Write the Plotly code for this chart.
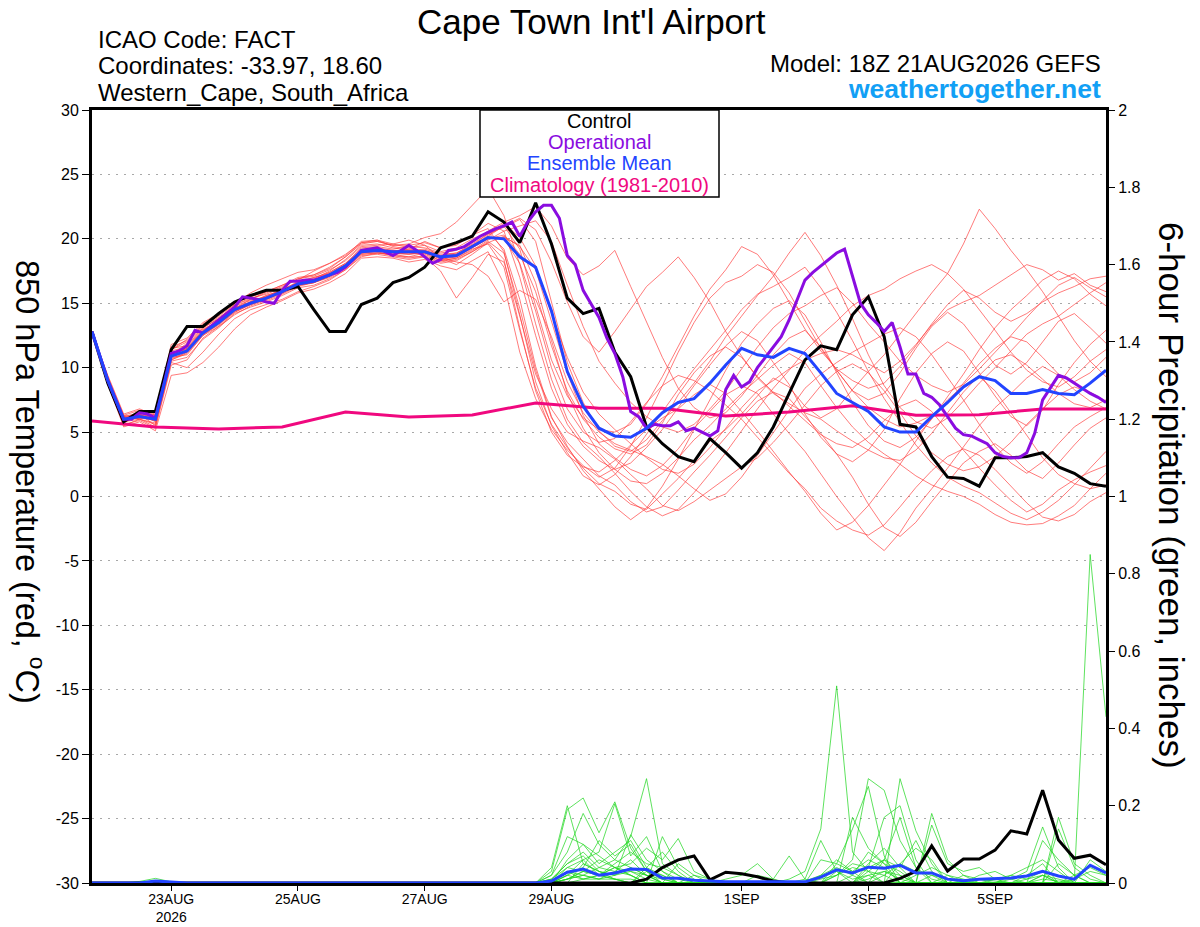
import pandas as pd
import plotly.graph_objects as go

# GEFS run 18Z 21AUG2026, 6-hourly out to 384 h (operational GFS is 3-hourly)
times = pd.date_range("2026-08-21 18:00", periods=65, freq="6h")
times_op = pd.date_range("2026-08-21 18:00", periods=129, freq="3h")
times_clim = pd.date_range("2026-08-21 18:00", periods=17, freq="24h")

tick_dates = ["2026-08-23", "2026-08-25", "2026-08-27", "2026-08-29",
              "2026-09-01", "2026-09-03", "2026-09-05"]
tick_labels = ["23AUG<br>2026", "25AUG", "27AUG", "29AUG", "1SEP", "3SEP", "5SEP"]

temp_ticks = [-30, -25, -20, -15, -10, -5, 0, 5, 10, 15, 20, 25, 30]
temp_tick_text = ["-30", "-25", "-20", "-15", "-10", "-5", "0", "5", "10", "15", "20", "25", "30"]

# 850 hPa temperature (deg C)
control_t = [12.8, 8.8, 5.8, 6.6, 6.6, 11.4, 13.2, 13.2, 14.2, 15.1,
             15.6, 16.0, 16.0, 16.3, 14.5, 12.8, 12.8, 14.9, 15.4, 16.6,
             17.0, 17.8, 19.3, 19.7, 20.2, 22.1, 21.3, 19.7, 22.8, 19.6,
             15.4, 14.2, 14.6, 11.2, 9.3, 5.4, 4.1, 3.1, 2.7, 4.5,
             3.4, 2.2, 3.4, 5.4, 8.0, 10.6, 11.7, 11.4, 14.1, 15.5,
             12.4, 5.6, 5.4, 3.1, 1.5, 1.4, 0.8, 3.0, 3.0, 3.1,
             3.4, 2.3, 1.8, 1.0, 0.8]

oper_t = [12.8, 10.9, 9.0, 7.5, 6.0, 6.0, 6.5, 6.4,
          6.1, 8.5, 11.1, 11.3, 11.7, 12.9, 12.7, 13.2,
          13.7, 14.2, 14.7, 15.5, 15.4, 15.3, 15.1, 15.0,
          16.0, 16.7, 16.7, 16.8, 16.8, 17.0, 17.2, 17.4,
          17.8, 18.4, 19.1, 19.2, 19.3, 19.0, 18.7, 19.1,
          19.5, 19.1, 18.6, 18.1, 18.4, 19.1, 19.2, 19.4,
          19.8, 20.2, 20.5, 20.8, 21.0, 21.3, 20.2, 21.3,
          22.1, 22.6, 22.6, 21.6, 18.7, 18.0, 16.0, 15.0,
          13.9, 12.3, 11.1, 9.3, 6.6, 6.2, 5.3, 5.6,
          5.5, 5.5, 5.8, 5.1, 5.3, 5.0, 4.7, 5.1,
          8.3, 9.4, 8.5, 8.9, 10.0, 10.8, 11.6, 12.4,
          13.7, 15.3, 16.8, 17.4, 17.9, 18.4, 18.9, 19.2,
          17.0, 15.0, 14.1, 13.5, 12.8, 13.5, 11.6, 9.5,
          9.5, 8.0, 7.7, 7.1, 6.2, 5.3, 4.8, 4.7,
          4.4, 4.1, 3.4, 3.1, 3.0, 3.0, 3.4, 4.9,
          7.5, 8.5, 9.4, 9.2, 8.8, 8.4, 8.0, 7.7,
          7.3]

mean_t = [12.8, 9.0, 6.0, 6.2, 6.0, 10.9, 11.3, 12.7, 13.5, 14.5,
          15.0, 15.4, 15.9, 16.5, 16.7, 17.2, 17.9, 19.0, 19.1, 19.0,
          19.0, 19.0, 18.6, 18.7, 19.4, 20.1, 20.0, 18.6, 17.8, 14.4,
          9.7, 7.0, 5.3, 4.7, 4.6, 5.3, 6.5, 7.3, 7.6, 8.8,
          10.2, 11.5, 11.0, 10.8, 11.5, 11.1, 9.6, 8.0, 7.3, 6.6,
          5.4, 5.0, 5.0, 6.2, 7.3, 8.5, 9.3, 9.0, 8.0, 8.0,
          8.3, 8.0, 7.9, 8.8, 9.8]

clim_t = [5.86, 5.39, 5.24, 5.4, 6.56, 6.17, 6.33, 7.26, 6.85,
          6.85, 6.25, 6.55, 7.05, 6.3, 6.35, 6.8, 6.8]

m01 = [12.8, 9.3, 5.7, 6.4, 5.8, 11.0, 11.9, 13.1, 13.8, 14.6,
       15.3, 15.9, 16.4, 16.8, 17.5, 18.1, 18.8, 19.7, 19.9, 19.4,
       19.2, 19.8, 19.3, 19.5, 20.3, 21.2, 20.6, 17.0, 12.5, 8.4,
       5.6, 3.9, 2.8, 2.1, 2.6, 3.8, 5.2, 6.9, 8.6, 10.2,
       11.7, 12.8, 12.1, 10.4, 8.7, 6.4, 4.6, 3.3, 2.7, 3.6,
       5.2, 7.6, 9.6, 11.1, 12.0, 11.3, 9.6, 7.8, 6.2, 5.5,
       6.7, 8.7, 10.4, 11.8, 12.9]
m02 = [12.8, 8.8, 6.2, 6.0, 5.4, 10.5, 10.8, 12.2, 13.1, 14.2,
       14.7, 15.1, 15.6, 16.2, 16.4, 16.9, 17.6, 18.6, 18.9, 18.7,
       18.5, 18.7, 18.2, 18.4, 19.0, 19.8, 18.9, 14.6, 9.8, 6.1,
       4.2, 2.9, 1.6, 0.9, -0.4, -1.2, -0.8, 0.5, 1.9, 3.2,
       4.6, 6.1, 7.4, 8.1, 7.6, 6.2, 4.9, 3.3, 1.5, -0.6,
       -2.4, -3.1, -2.0, -0.4, 1.1, 2.6, 3.5, 4.1, 3.2, 2.0,
       1.4, 2.6, 4.0, 5.3, 6.1]
m03 = [12.8, 9.1, 6.1, 6.3, 6.2, 11.3, 11.6, 13.0, 13.6, 14.4,
       15.1, 15.6, 16.0, 16.7, 17.0, 17.4, 18.1, 19.3, 19.4, 19.2,
       19.4, 19.3, 18.9, 19.1, 19.8, 20.6, 21.3, 21.8, 22.5, 21.0,
       18.5, 17.2, 17.9, 19.1, 16.3, 13.5, 10.8, 8.4, 6.9, 6.1,
       6.5, 7.8, 9.4, 11.0, 12.3, 12.9, 11.6, 9.8, 8.2, 7.5,
       8.0, 9.6, 11.5, 13.2, 14.3, 13.4, 11.8, 10.2, 9.5, 10.4,
       12.0, 13.6, 14.2, 13.1, 11.9]
m04 = [12.8, 8.9, 5.9, 6.1, 6.4, 11.1, 11.5, 12.9, 13.7, 14.8,
       15.2, 15.5, 16.1, 16.6, 16.9, 17.5, 18.4, 19.5, 19.6, 19.3,
       19.1, 19.2, 18.8, 18.9, 19.6, 20.4, 20.9, 21.5, 19.8, 15.2,
       10.4, 7.3, 5.1, 3.9, 3.5, 4.4, 5.9, 7.3, 8.8, 10.5,
       12.4, 14.0, 15.6, 17.1, 18.9, 20.5, 18.7, 16.4, 13.8, 11.0,
       8.6, 6.9, 5.8, 5.3, 6.1, 7.4, 8.8, 10.0, 11.3, 12.6,
       13.4, 14.0, 14.9, 15.8, 16.6]
m05 = [12.8, 9.0, 5.6, 5.9, 5.3, 10.2, 10.6, 12.3, 13.2, 14.1,
       14.8, 15.2, 15.7, 16.3, 16.6, 17.0, 17.7, 18.8, 18.9, 18.8,
       18.6, 18.9, 18.3, 18.5, 19.2, 19.6, 17.8, 12.9, 8.4, 5.6,
       3.8, 2.2, 1.0, 0.4, -0.6, -1.0, 0.2, 1.4, 2.8, 4.3,
       5.2, 6.4, 7.8, 9.2, 8.5, 7.0, 6.1, 6.8, 8.3, 9.7,
       11.0, 12.6, 14.2, 15.8, 17.3, 19.6, 22.3, 20.8, 19.1, 17.6,
       15.9, 14.0, 12.1, 10.5, 9.3]
m06 = [12.8, 9.2, 6.0, 6.6, 6.0, 11.6, 12.1, 13.3, 14.0, 14.9,
       15.4, 15.7, 16.2, 16.9, 17.1, 17.6, 18.3, 19.4, 19.5, 19.6,
       19.9, 19.5, 18.5, 18.0, 18.8, 19.7, 20.2, 19.4, 17.6, 13.5,
       9.6, 6.3, 4.1, 3.0, 2.1, 1.6, 2.4, 3.7, 5.3, 6.6,
       7.9, 8.6, 8.0, 6.4, 4.9, 3.5, 1.8, 0.0, -1.6, -3.2,
       -4.2, -2.8, -0.9, 0.6, 2.2, 3.9, 5.5, 6.9, 8.0, 9.2,
       10.1, 9.4, 8.3, 7.4, 6.8]
m07 = [12.8, 8.7, 5.4, 5.8, 5.1, 9.4, 9.6, 10.4, 11.6, 13.0,
       14.1, 14.7, 15.2, 15.8, 16.1, 16.6, 17.3, 18.5, 18.6, 18.5,
       18.2, 18.4, 17.9, 17.6, 18.3, 19.0, 16.5, 11.2, 7.6, 5.2,
       3.6, 2.4, 1.5, 2.2, 3.9, 6.1, 8.6, 11.2, 13.5, 15.4,
       16.6, 17.1, 18.0, 17.4, 15.8, 13.6, 11.5, 9.8, 8.2, 6.9,
       6.0, 5.4, 5.7, 6.3, 7.2, 8.8, 10.3, 11.5, 12.4, 12.0,
       10.8, 9.5, 8.9, 9.6, 10.8]
m08 = [12.8, 9.0, 6.3, 6.0, 6.5, 11.4, 12.0, 13.2, 13.9, 14.7,
       15.0, 15.6, 16.0, 16.6, 17.0, 17.3, 18.0, 19.2, 19.3, 19.1,
       19.0, 19.1, 18.7, 18.8, 19.4, 20.2, 21.0, 21.6, 20.7, 18.2,
       15.1, 12.4, 11.2, 12.8, 14.6, 16.3, 17.4, 18.6, 17.0, 15.1,
       12.8, 10.9, 9.2, 8.0, 7.2, 6.5, 6.0, 5.1, 4.3, 3.6,
       3.0, 2.8, 3.6, 4.9, 6.5, 8.1, 9.4, 10.6, 11.0, 10.2,
       9.1, 8.0, 7.2, 6.9, 7.5]
m09 = [12.8, 9.4, 6.4, 6.8, 6.3, 11.8, 12.3, 13.5, 14.2, 15.0,
       15.8, 16.4, 16.9, 17.4, 17.6, 18.1, 18.7, 19.8, 19.9, 19.6,
       19.3, 19.5, 19.0, 19.3, 20.0, 20.5, 19.2, 15.3, 10.1, 6.2,
       3.9, 2.0, 0.6, -0.8, -1.8, -0.9, 0.8, 2.9, 5.2, 7.5,
       9.8, 11.9, 13.4, 14.6, 15.2, 14.1, 12.0, 9.6, 7.3, 5.5,
       4.3, 3.8, 4.6, 6.0, 7.7, 9.5, 11.4, 13.1, 14.5, 15.6,
       16.8, 17.5, 16.9, 15.7, 14.8]
m10 = [12.8, 8.9, 5.9, 6.2, 5.9, 10.8, 11.0, 12.5, 13.4, 14.3,
       14.9, 15.3, 15.8, 16.4, 16.6, 17.1, 17.8, 18.9, 19.0, 18.9,
       18.8, 18.9, 18.5, 18.6, 19.3, 20.0, 20.3, 18.8, 15.9, 11.7,
       8.2, 6.0, 4.6, 3.7, 3.3, 4.0, 5.7, 7.9, 9.6, 10.9,
       11.6, 10.8, 9.3, 8.1, 7.0, 5.9, 4.8, 4.1, 3.8, 4.6,
       5.9, 7.0, 7.5, 6.6, 5.1, 3.6, 2.2, 0.9, -0.3, -1.2,
       -0.6, 0.5, 1.3, 1.9, 2.4]
m11 = [12.8, 9.1, 5.8, 6.0, 5.7, 10.7, 11.2, 12.6, 13.3, 14.4,
       14.9, 15.3, 15.9, 16.5, 16.8, 17.3, 18.0, 19.1, 19.2, 19.0,
       18.9, 18.8, 18.3, 18.5, 19.1, 19.9, 20.6, 21.0, 21.4, 19.8,
       16.4, 13.2, 10.5, 8.8, 7.3, 6.2, 5.4, 5.0, 5.6, 6.8,
       8.2, 9.9, 11.6, 13.1, 14.2, 14.8, 15.6, 16.2, 15.0, 13.4,
       12.0, 10.5, 9.4, 8.6, 8.1, 8.7, 9.9, 11.2, 12.5, 13.9,
       15.2, 16.4, 17.0, 16.2, 15.5]
m12 = [12.8, 9.0, 6.2, 6.4, 6.1, 11.2, 11.4, 12.8, 13.5, 14.6,
       15.1, 15.4, 16.0, 16.5, 16.8, 17.2, 17.9, 19.0, 19.2, 19.1,
       19.1, 19.1, 18.7, 18.9, 19.5, 20.1, 20.0, 18.1, 14.4, 10.0,
       6.8, 5.0, 4.2, 4.5, 5.8, 7.3, 8.6, 9.4, 9.0, 8.2,
       7.1, 6.0, 4.6, 3.2, 1.8, 0.6, -0.9, -1.9, -2.6, -3.0,
       -2.2, -0.8, 0.7, 2.0, 3.1, 3.7, 3.2, 2.1, 0.8, -0.5,
       -1.6, -1.9, -1.4, -0.4, 0.3]
m13 = [12.8, 8.8, 6.0, 6.1, 5.9, 10.6, 11.2, 12.6, 13.4, 14.4,
       15.0, 15.4, 15.9, 16.4, 16.6, 17.1, 17.8, 18.8, 18.9, 18.8,
       18.9, 18.9, 18.6, 18.7, 19.4, 20.3, 21.0, 19.2, 14.8, 10.6,
       7.8, 6.1, 5.2, 5.0, 5.6, 7.2, 9.3, 11.6, 14.0, 16.1,
       17.6, 19.4, 18.8, 17.2, 15.1, 13.0, 11.3, 9.9, 9.0, 8.4,
       8.8, 10.1, 11.7, 13.4, 14.9, 16.0, 15.4, 14.3, 13.6, 14.2,
       15.1, 15.8, 16.3, 16.9, 17.1]
m14 = [12.8, 9.2, 6.1, 6.3, 6.0, 11.0, 11.5, 12.9, 13.6, 14.6,
       15.1, 15.5, 16.0, 16.6, 16.8, 17.4, 18.1, 19.1, 19.1, 19.0,
       19.0, 19.0, 18.4, 18.6, 19.3, 20.0, 20.1, 19.5, 16.6, 12.1,
       8.0, 5.3, 3.4, 2.1, 1.2, 1.0, 1.8, 3.0, 4.4, 5.5,
       6.8, 8.0, 9.1, 10.2, 11.1, 10.4, 8.6, 6.9, 5.4, 4.2,
       3.3, 2.5, 1.6, 0.9, 0.4, 0.0, -0.6, -1.4, -2.0, -2.2,
       -2.1, -1.5, -0.7, 0.6, 1.8]
m15 = [12.8, 9.0, 5.5, 6.0, 5.6, 10.4, 10.0, 11.2, 12.6, 13.8,
       14.5, 14.9, 15.3, 15.9, 16.3, 16.8, 17.6, 18.7, 18.8, 18.6,
       18.4, 18.6, 17.5, 15.4, 17.0, 18.8, 18.2, 14.0, 9.5, 6.8,
       5.0, 4.3, 3.8, 2.9, 1.7, 0.6, -0.7, -1.1, -0.4, 0.5,
       1.4, 2.3, 3.0, 4.2, 5.6, 7.1, 8.6, 9.7, 10.3, 9.6,
       8.2, 6.5, 4.7, 3.4, 2.5, 2.0, 2.3, 3.1, 4.2, 5.6,
       6.8, 7.9, 8.5, 8.1, 7.4]
m16 = [12.8, 9.1, 6.2, 6.5, 6.6, 11.5, 11.7, 13.1, 13.8, 14.9,
       15.3, 15.8, 16.3, 16.9, 17.2, 17.7, 18.6, 19.6, 19.8, 19.5,
       19.6, 20.1, 20.4, 21.3, 22.6, 23.9, 21.8, 18.0, 13.4, 9.1,
       6.0, 4.2, 3.1, 1.8, 0.4, -0.8, -1.5, -1.0, 0.3, 1.8,
       3.4, 5.1, 6.8, 8.4, 9.8, 11.3, 12.5, 13.6, 14.8, 15.6,
       16.1, 16.9, 17.5, 18.0, 17.3, 16.1, 14.5, 12.9, 11.2, 9.8,
       8.9, 8.5, 9.3, 10.5, 11.4]
m17 = [12.8, 8.9, 5.8, 6.2, 6.0, 10.9, 11.3, 12.8, 13.6, 14.5,
       15.1, 15.5, 15.8, 16.4, 16.6, 17.1, 17.8, 18.9, 19.1, 19.0,
       19.2, 19.0, 18.6, 18.2, 18.0, 17.1, 15.1, 16.0, 15.3, 12.4,
       8.9, 6.5, 5.0, 4.1, 3.6, 3.1, 2.5, 1.6, 0.6, -0.3,
       0.2, 1.5, 3.2, 5.0, 6.7, 8.4, 9.5, 10.4, 11.2, 11.9,
       12.6, 13.1, 12.4, 11.0, 9.3, 7.5, 5.6, 3.9, 2.6, 1.8,
       2.7, 4.1, 5.4, 6.2, 6.9]
m18 = [12.8, 9.3, 6.3, 6.7, 6.2, 11.4, 12.2, 13.4, 14.1, 15.0,
       15.5, 15.9, 16.4, 17.0, 17.2, 17.8, 18.6, 19.7, 19.8, 19.5,
       19.5, 19.7, 19.3, 19.6, 20.3, 20.8, 19.0, 14.1, 8.9, 5.5,
       3.4, 1.6, 0.9, 1.7, 3.1, 4.8, 6.6, 8.3, 9.9, 11.4,
       12.9, 14.5, 15.7, 16.3, 17.0, 17.8, 16.2, 14.3, 12.1, 9.7,
       7.6, 5.8, 4.0, 2.6, 1.5, 0.8, 0.3, -0.5, -1.3, -1.8,
       -1.2, -0.3, 0.9, 2.2, 3.5]
m19 = [12.8, 9.0, 6.0, 6.1, 6.1, 11.1, 11.4, 12.7, 13.5, 14.5,
       15.0, 15.4, 15.8, 16.4, 16.7, 17.2, 18.0, 19.0, 19.2, 18.9,
       18.8, 19.0, 18.6, 18.8, 19.5, 20.4, 21.2, 20.1, 17.9, 14.2,
       10.8, 8.1, 6.4, 5.2, 4.1, 3.0, 2.1, 1.8, 2.5, 3.8,
       5.3, 6.9, 8.2, 9.0, 9.9, 10.6, 11.1, 11.4, 11.0, 10.3,
       9.6, 10.5, 11.8, 13.3, 14.5, 15.1, 15.6, 16.4, 17.2, 18.0,
       17.6, 16.8, 17.3, 16.4, 15.9]
m20 = [12.8, 9.1, 5.9, 6.4, 5.5, 10.6, 11.1, 12.5, 13.2, 14.3,
       14.9, 15.3, 15.8, 16.4, 16.7, 17.1, 17.9, 18.9, 19.0, 18.7,
       18.6, 18.6, 18.1, 18.3, 19.0, 19.7, 18.4, 13.1, 8.2, 5.0,
       3.2, 2.3, 1.9, 2.8, 4.0, 5.2, 6.1, 6.8, 7.9, 8.7,
       8.0, 6.6, 5.1, 3.5, 1.9, 0.4, -1.3, -2.6, -2.0, -0.7,
       0.9, 2.5, 4.3, 6.1, 7.5, 8.6, 9.3, 8.2, 6.5, 4.7,
       3.0, 1.7, 1.0, 0.6, 0.9]

# 6-hour precipitation (inches)
control_p = [0, 0, 0, 0, 0, 0, 0, 0, 0, 0,
             0, 0, 0, 0, 0, 0, 0, 0, 0, 0,
             0, 0, 0, 0, 0, 0, 0, 0, 0, 0,
             0, 0, 0, 0, 0, 0.01, 0.04, 0.06, 0.07, 0.008,
             0.028, 0.024, 0.016, 0.005, 0, 0, 0, 0, 0, 0,
             0, 0.012, 0.03, 0.096, 0.031, 0.062, 0.062, 0.085, 0.135, 0.127,
             0.24, 0.111, 0.064, 0.072, 0.047]

mean_p = [0, 0, 0, 0, 0.005, 0.002, 0, 0, 0, 0,
          0, 0, 0, 0, 0, 0, 0, 0, 0, 0,
          0, 0, 0, 0, 0, 0, 0, 0, 0, 0.005,
          0.028, 0.036, 0.02, 0.026, 0.036, 0.035, 0.013, 0.012, 0.007, 0.005,
          0.003, 0.003, 0.003, 0.003, 0.003, 0.003, 0.015, 0.034, 0.026, 0.041,
          0.038, 0.046, 0.026, 0.026, 0.01, 0.006, 0.01, 0.012, 0.013, 0.018,
          0.03, 0.018, 0.01, 0.046, 0.026]

p01 = [0, 0, 0, 0, 0, 0, 0, 0, 0, 0,
       0, 0, 0, 0, 0, 0, 0, 0, 0, 0,
       0, 0, 0, 0, 0, 0, 0, 0, 0,
       0.01, 0.05, 0.08, 0.04, 0.06, 0.12, 0.27, 0.05, 0.02, 0,
       0, 0, 0, 0, 0, 0, 0, 0, 0, 0,
       0.03, 0.06, 0.02, 0, 0, 0, 0, 0, 0, 0,
       0, 0, 0, 0, 0, 0]
p02 = [0, 0, 0, 0, 0, 0, 0, 0, 0, 0,
       0, 0, 0, 0, 0, 0, 0, 0, 0, 0,
       0, 0, 0, 0, 0, 0, 0, 0, 0,
       0.03, 0.19, 0.22, 0.13, 0.21, 0.09, 0.03, 0.01, 0, 0,
       0, 0, 0, 0, 0, 0, 0, 0, 0.02, 0.06,
       0.27, 0.24, 0.11, 0.04, 0.01, 0, 0, 0, 0, 0,
       0, 0.02, 0, 0, 0, 0]
p03 = [0, 0, 0, 0, 0, 0, 0, 0, 0, 0,
       0, 0, 0, 0, 0, 0, 0, 0, 0, 0,
       0, 0, 0, 0, 0, 0, 0, 0, 0,
       0.02, 0.08, 0.18, 0.10, 0.06, 0.04, 0.02, 0, 0, 0,
       0, 0, 0, 0, 0, 0, 0.01, 0.11, 0.03, 0,
       0, 0, 0.27, 0.135, 0.05, 0, 0, 0, 0, 0.01,
       0.03, 0.145, 0.04, 0, 0, 0]
p04 = [0, 0, 0, 0, 0, 0, 0, 0, 0, 0,
       0, 0, 0, 0, 0, 0, 0, 0, 0, 0,
       0, 0, 0, 0, 0, 0, 0, 0, 0,
       0.04, 0.20, 0.05, 0.03, 0.02, 0.125, 0.06, 0.03, 0.01, 0,
       0, 0, 0, 0, 0, 0, 0, 0, 0, 0.17,
       0.09, 0.05, 0, 0, 0, 0, 0, 0, 0, 0,
       0, 0, 0.17, 0.05, 0.02, 0]
p05 = [0, 0, 0, 0, 0.006, 0, 0, 0, 0, 0,
       0, 0, 0, 0, 0, 0, 0, 0, 0, 0,
       0, 0, 0, 0, 0, 0, 0, 0, 0,
       0, 0.02, 0.06, 0.08, 0.205, 0.07, 0.12, 0.03, 0, 0,
       0, 0, 0, 0, 0, 0, 0, 0, 0, 0,
       0.04, 0.17, 0.20, 0.06, 0, 0, 0, 0, 0, 0,
       0.02, 0.05, 0, 0, 0, 0]
p06 = [0, 0, 0, 0, 0, 0, 0, 0, 0, 0,
       0, 0, 0, 0, 0, 0, 0, 0, 0, 0,
       0, 0, 0, 0, 0, 0, 0, 0, 0,
       0, 0.01, 0.02, 0.04, 0.03, 0.02, 0, 0, 0, 0,
       0, 0, 0, 0, 0, 0.01, 0.03, 0.14, 0.51, 0.08,
       0.03, 0.02, 0, 0, 0.18, 0.06, 0.02, 0, 0, 0,
       0, 0, 0, 0, 0, 0]
p07 = [0, 0, 0, 0, 0, 0, 0, 0, 0, 0,
       0, 0, 0, 0, 0, 0, 0, 0, 0, 0,
       0, 0, 0, 0, 0, 0, 0, 0, 0,
       0, 0.01, 0.03, 0.02, 0.01, 0, 0, 0.12, 0.04, 0.01,
       0, 0, 0, 0, 0, 0, 0, 0, 0, 0,
       0.01, 0.03, 0.02, 0, 0, 0, 0, 0, 0, 0,
       0, 0.01, 0.005, 0.005, 0.85, 0.43]
p08 = [0, 0, 0, 0, 0, 0, 0, 0, 0, 0,
       0, 0, 0, 0, 0, 0, 0, 0, 0, 0,
       0, 0, 0, 0, 0, 0, 0, 0, 0,
       0, 0.06, 0.10, 0.05, 0.08, 0.11, 0.04, 0.02, 0, 0,
       0, 0, 0, 0, 0, 0, 0, 0, 0.05, 0.14,
       0.25, 0.07, 0, 0, 0, 0, 0, 0, 0, 0,
       0, 0, 0.14, 0.04, 0.01, 0]
p09 = [0, 0, 0, 0, 0, 0, 0, 0, 0, 0,
       0, 0, 0, 0, 0, 0, 0, 0, 0, 0,
       0, 0, 0, 0, 0, 0, 0, 0, 0,
       0.01, 0.04, 0.03, 0.06, 0.04, 0.05, 0.09, 0.06, 0.115, 0.03,
       0.01, 0, 0, 0, 0, 0, 0, 0, 0, 0,
       0, 0, 0, 0, 0.15, 0.05, 0.03, 0.04, 0.01, 0,
       0, 0, 0, 0, 0, 0]
p10 = [0, 0, 0, 0, 0, 0, 0, 0, 0, 0,
       0, 0, 0, 0, 0, 0, 0, 0, 0, 0,
       0, 0, 0, 0, 0, 0, 0, 0, 0,
       0, 0, 0.05, 0.03, 0.02, 0.03, 0.02, 0.01, 0, 0,
       0, 0.01, 0.02, 0.05, 0.01, 0.07, 0.01, 0, 0, 0,
       0, 0.06, 0.04, 0.11, 0.03, 0, 0, 0, 0, 0.02,
       0.01, 0.03, 0, 0, 0, 0]
p11 = [0, 0, 0, 0, 0, 0, 0, 0, 0, 0,
       0, 0, 0, 0, 0, 0, 0, 0, 0, 0,
       0, 0, 0, 0, 0, 0, 0, 0, 0,
       0, 0.03, 0.01, 0.02, 0.05, 0.08, 0.05, 0.04, 0.02, 0,
       0, 0, 0, 0, 0, 0, 0, 0.06, 0.05, 0.03,
       0.06, 0.04, 0, 0, 0, 0, 0, 0.02, 0.03, 0.01,
       0, 0, 0, 0, 0, 0]
p12 = [0, 0, 0, 0, 0, 0, 0, 0, 0, 0,
       0, 0, 0, 0, 0, 0, 0, 0, 0, 0,
       0, 0, 0, 0, 0, 0, 0, 0, 0,
       0.02, 0.12, 0.10, 0.07, 0.04, 0.02, 0, 0, 0, 0,
       0, 0, 0, 0, 0, 0, 0, 0, 0.02, 0.05,
       0.04, 0.06, 0.17, 0.04, 0, 0, 0, 0, 0, 0,
       0, 0.11, 0.06, 0.02, 0, 0]
p13 = [0, 0, 0, 0, 0, 0, 0, 0, 0, 0,
       0, 0, 0, 0, 0, 0, 0, 0, 0, 0,
       0, 0, 0, 0, 0, 0, 0, 0, 0,
       0, 0.02, 0.04, 0.11, 0.07, 0.10, 0.03, 0, 0.05, 0.02,
       0, 0, 0, 0, 0, 0, 0.005, 0.02, 0.04, 0.02,
       0, 0, 0, 0, 0, 0, 0.02, 0.01, 0, 0,
       0, 0, 0, 0.01, 0.03, 0.02]
p14 = [0, 0, 0, 0, 0, 0, 0, 0, 0, 0,
       0, 0, 0, 0, 0, 0, 0, 0, 0, 0,
       0, 0, 0, 0, 0, 0, 0, 0, 0,
       0, 0.01, 0.02, 0.01, 0.02, 0.04, 0.02, 0, 0, 0,
       0, 0, 0, 0, 0, 0, 0, 0, 0, 0,
       0.02, 0.03, 0.01, 0, 0.02, 0.01, 0, 0, 0, 0,
       0.01, 0.02, 0, 0, 0, 0]
p15 = [0, 0, 0, 0, 0, 0, 0, 0, 0, 0,
       0, 0, 0, 0, 0, 0, 0, 0, 0, 0,
       0, 0, 0, 0, 0, 0, 0, 0, 0,
       0.01, 0.05, 0.07, 0.03, 0.01, 0, 0.04, 0.08, 0.03, 0,
       0, 0, 0, 0, 0, 0, 0, 0, 0, 0.02,
       0.08, 0.05, 0.03, 0, 0, 0, 0, 0, 0.01, 0.02,
       0.04, 0.06, 0.03, 0, 0, 0]
p16 = [0, 0, 0, 0, 0, 0, 0, 0, 0, 0,
       0, 0, 0, 0, 0, 0, 0, 0, 0, 0,
       0, 0, 0, 0, 0, 0, 0, 0, 0,
       0, 0, 0.01, 0.02, 0.04, 0.02, 0, 0, 0, 0.02,
       0.01, 0, 0, 0.02, 0.01, 0, 0, 0, 0, 0,
       0, 0.02, 0.05, 0.03, 0.02, 0, 0, 0, 0, 0,
       0, 0, 0, 0.02, 0.04, 0.02]
p17 = [0, 0, 0, 0, 0, 0, 0, 0, 0, 0,
       0, 0, 0, 0, 0, 0, 0, 0, 0, 0,
       0, 0, 0, 0, 0, 0, 0, 0, 0,
       0.005, 0.03, 0.02, 0.01, 0.03, 0.06, 0.02, 0, 0, 0,
       0, 0, 0, 0, 0, 0, 0, 0, 0.03, 0.01,
       0.02, 0, 0, 0.02, 0.04, 0.02, 0, 0, 0, 0,
       0, 0.02, 0.01, 0, 0, 0]
p18 = [0, 0, 0, 0, 0, 0, 0, 0, 0, 0,
       0, 0, 0, 0, 0, 0, 0, 0, 0, 0,
       0, 0, 0, 0, 0, 0, 0, 0, 0,
       0, 0.02, 0.01, 0.01, 0.01, 0.01, 0, 0, 0, 0,
       0, 0, 0, 0, 0, 0, 0, 0.02, 0.06, 0.03,
       0, 0, 0.05, 0.09, 0.06, 0, 0, 0, 0, 0,
       0, 0, 0, 0, 0.06, 0.03]
p19 = [0, 0, 0, 0, 0, 0, 0, 0, 0, 0,
       0, 0, 0, 0, 0, 0, 0, 0, 0, 0,
       0, 0, 0, 0, 0, 0, 0, 0, 0,
       0, 0.04, 0.06, 0.02, 0.01, 0, 0.03, 0.02, 0, 0,
       0, 0, 0, 0, 0, 0, 0, 0, 0, 0,
       0.05, 0.09, 0.04, 0, 0, 0, 0, 0.01, 0.005, 0,
       0, 0, 0.05, 0.02, 0, 0]
p20 = [0, 0, 0, 0.004, 0.012, 0.003, 0, 0, 0, 0,
       0, 0, 0, 0, 0, 0, 0, 0, 0, 0,
       0, 0, 0, 0, 0, 0, 0, 0, 0,
       0, 0.01, 0.03, 0.02, 0.04, 0.03, 0.01, 0, 0, 0,
       0, 0, 0, 0, 0, 0, 0, 0.01, 0.02, 0.04,
       0.03, 0, 0, 0, 0, 0.02, 0.01, 0, 0, 0,
       0, 0, 0, 0, 0, 0]

temp_members = [m01, m02, m03, m04, m05, m06, m07, m08, m09, m10,
                m11, m12, m13, m14, m15, m16, m17, m18, m19, m20]
precip_members = [p01, p02, p03, p04, p05, p06, p07, p08, p09, p10,
                  p11, p12, p13, p14, p15, p16, p17, p18, p19, p20]

RED = "rgba(255,60,60,0.85)"
GREEN = "rgba(30,215,30,0.9)"
BLACK = "#000000"
PURPLE = "#8a0ce0"
BLUE = "#2244ff"
PINK = "#f0087f"
FONT = "Liberation Sans, Arial, Helvetica, sans-serif"

# plot area in screen pixels: x 92..1106, y 110..883
def px(x):
    return (x - 92) / 1014.0

def py(y):
    return (883 - y) / 773.0

fig = go.Figure()

for m in temp_members:
    fig.add_trace(go.Scatter(x=times, y=m, mode="lines",
                             line=dict(color=RED, width=0.8), hoverinfo="skip"))
for p in precip_members:
    fig.add_trace(go.Scatter(x=times, y=p, mode="lines", yaxis="y2",
                             line=dict(color=GREEN, width=0.8), hoverinfo="skip"))

fig.add_trace(go.Scatter(x=times_clim, y=clim_t, mode="lines", line=dict(color=PINK, width=3)))
fig.add_trace(go.Scatter(x=times, y=control_t, mode="lines", line=dict(color=BLACK, width=3)))
fig.add_trace(go.Scatter(x=times_op, y=oper_t, mode="lines", line=dict(color=PURPLE, width=3)))
fig.add_trace(go.Scatter(x=times, y=mean_t, mode="lines", line=dict(color=BLUE, width=3)))
fig.add_trace(go.Scatter(x=times, y=control_p, mode="lines", yaxis="y2", line=dict(color=BLACK, width=3)))
fig.add_trace(go.Scatter(x=times, y=mean_p, mode="lines", yaxis="y2", line=dict(color=BLUE, width=3)))

# the page body adds an 8 px offset, so the figure is sized to fit inside the window
fig.update_layout(
    width=1192, height=919,
    margin=dict(l=84, r=94, t=102, b=44),
    plot_bgcolor="white", paper_bgcolor="white",
    font=dict(family=FONT, size=16, color="black"),
    showlegend=False,
    xaxis=dict(type="date", range=[times[0], times[-1]],
               tickvals=tick_dates, ticktext=tick_labels,
               ticks="outside", ticklen=5, tickcolor="black",
               ticklabelstandoff=-4,
               showgrid=False, zeroline=False, automargin=False,
               showline=True, linecolor="black", linewidth=3, mirror=True,
               tickfont=dict(size=14)),
    yaxis=dict(range=[-30, 30], tickvals=temp_ticks, ticktext=temp_tick_text,
               ticks="outside", ticklen=7, tickcolor="black",
               showgrid=True, gridcolor="#a8a8a8", griddash="2px,6px", gridwidth=1,
               zeroline=False, showline=True, linecolor="black", linewidth=3,
               automargin=False, tickfont=dict(size=16)),
    yaxis2=dict(overlaying="y", side="right", range=[0, 2], dtick=0.2, tick0=0,
                ticks="outside", ticklen=6, tickcolor="black",
                showgrid=False, zeroline=False, automargin=False,
                showline=True, linecolor="black", linewidth=3,
                tickfont=dict(size=16)),
)

# legend box drawn over the spaghetti
fig.add_shape(type="rect", xref="paper", yref="paper",
              x0=px(480), x1=px(719), y0=py(197), y1=py(110),
              line=dict(color="black", width=1.5), fillcolor="white", layer="above")

legend_items = [("Control", BLACK, 121), ("Operational", PURPLE, 142),
                ("Ensemble Mean", BLUE, 163), ("Climatology (1981-2010)", PINK, 185)]
for text, color, y in legend_items:
    fig.add_annotation(text=text, xref="paper", yref="paper", x=px(599), y=py(y),
                       xanchor="center", yanchor="middle", showarrow=False,
                       font=dict(size=20, color=color))

fig.add_annotation(text="Cape Town Int'l Airport", xref="paper", yref="paper",
                   x=px(591), y=py(21), xanchor="center", yanchor="middle",
                   showarrow=False, font=dict(size=35))

for text, y in [("ICAO Code: FACT", 40), ("Coordinates: -33.97, 18.60", 66),
                ("Western_Cape, South_Africa", 93)]:
    fig.add_annotation(text=text, xref="paper", yref="paper", x=px(96), y=py(y),
                       xanchor="left", yanchor="middle", showarrow=False,
                       font=dict(size=24))

fig.add_annotation(text="Model: 18Z 21AUG2026 GEFS", xref="paper", yref="paper",
                   x=px(1103), y=py(63), xanchor="right", yanchor="middle",
                   showarrow=False, font=dict(size=24))
fig.add_annotation(text="<b>weathertogether.net</b>", xref="paper", yref="paper",
                   x=px(1103), y=py(89), xanchor="right", yanchor="middle",
                   showarrow=False, font=dict(size=26.5, color="#12a0f5"))

fig.add_annotation(text="850 hPa Temperature (red, <sup>o</sup>C)", xref="paper", yref="paper",
                   x=px(30), y=py(482), textangle=90, xanchor="center", yanchor="middle",
                   showarrow=False, font=dict(size=32.5))
fig.add_annotation(text="6-hour Precipitation (green, inches)", xref="paper", yref="paper",
                   x=px(1172), y=py(495), textangle=90, xanchor="center", yanchor="middle",
                   showarrow=False, font=dict(size=35))

fig.write_html("out.html")
